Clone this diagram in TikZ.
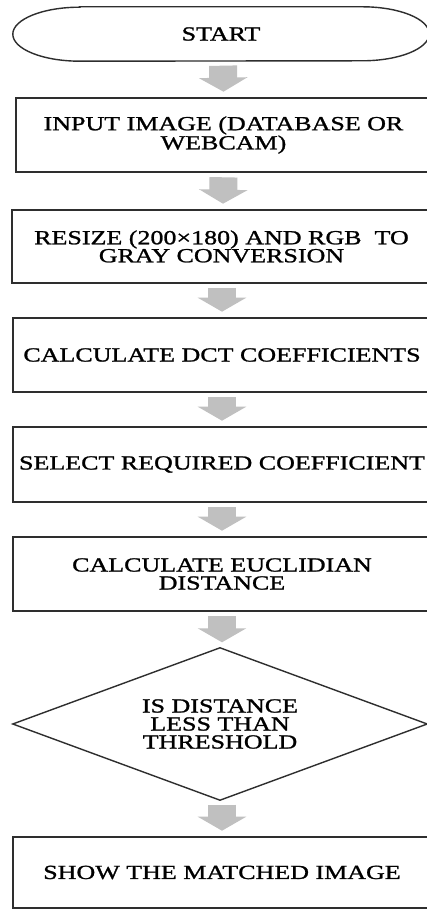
\documentclass[tikz,border=0pt]{standalone}
\usepackage{fontspec}
\setmainfont{Liberation Serif}[FakeStretch=1.3,FakeBold=1.2]
\usetikzlibrary{arrows.meta,calc}
\definecolor{edge}{HTML}{2E2E2E}
\definecolor{arrowgray}{HTML}{C0C0C0}
\tikzset{
  txt/.style={font=\fontsize{20}{18}\selectfont, align=center, text=black},
  procbox/.style={txt, draw=edge, line width=1.6pt, rectangle, inner sep=0pt},
  shapeholder/.style={txt, rectangle, inner sep=0pt},
  outline/.style={draw=edge, line width=1.4pt},
  blockarrow/.style={draw=arrowgray, line width=28pt, -{Triangle[width=48pt,length=14pt]}},
}
\begin{document}
\begin{tikzpicture}[x=1pt,y=1pt]
\useasboundingbox (0,0) rectangle (427,909);
\clip (0,0) rectangle (427,909);
\fill[white] (0,0) rectangle (427,909);

% start terminal
\node[shapeholder, minimum width=416pt, minimum height=54pt] (start) at (221,875) {START};
\draw[outline] ([xshift=67pt]start.north west) -- ([xshift=-67pt]start.north east)
  arc[start angle=90, end angle=-90, x radius=67pt, y radius=27pt]
  -- ([xshift=67pt]start.south west)
  arc[start angle=270, end angle=90, x radius=67pt, y radius=27pt] -- cycle;

\node[procbox, minimum width=415pt, minimum height=74pt] (input) at (223.5,774) {INPUT IMAGE (DATABASE OR\\WEBCAM)};
\node[procbox, minimum width=419pt, minimum height=73pt] (resize) at (221.5,662.5) {RESIZE (200×180) AND RGB\ \ TO\\GRAY CONVERSION};
\node[procbox, minimum width=418pt, minimum height=74pt] (dct) at (222,554) {CALCULATE DCT COEFFICIENTS};
\node[procbox, minimum width=418pt, minimum height=75pt] (select) at (222,444.5) {SELECT REQUIRED COEFFICIENT};
\node[procbox, minimum width=418pt, minimum height=74pt] (eucl) at (222,335) {CALCULATE EUCLIDIAN\\DISTANCE};

% decision diamond
\node[shapeholder, minimum width=414pt, minimum height=152pt] (dec) at (220,185) {IS DISTANCE\\LESS THAN\\THRESHOLD};
\draw[outline, line join=miter] (dec.west) -- (dec.north) -- (dec.east) -- (dec.south) -- cycle;

\node[procbox, minimum width=418pt, minimum height=71pt] (show) at (222,36.5) {SHOW THE MATCHED IMAGE};

% block arrows
\draw[blockarrow] ($(start.south)+(2,-4.5)$) -- ($(input.north)+(0,5.5)$);
\draw[blockarrow] ($(input.south)+(0,-4.5)$) -- ($(resize.north)+(1.5,5.5)$);
\draw[blockarrow] ($(resize.south)+(0.5,-4.5)$) -- ($(dct.north)+(0,5.5)$);
\draw[blockarrow] ($(dct.south)+(0,-4.5)$) -- ($(select.north)+(0,5.5)$);
\draw[blockarrow] ($(select.south)+(0,-4.5)$) -- ($(eucl.north)+(0,5.5)$);
\draw[blockarrow] ($(eucl.south)+(0,-4.5)$) -- ($(dec.north)+(2,5.5)$);
\draw[blockarrow] ($(dec.south)+(2,-4.5)$) -- ($(show.north)+(0,5.5)$);
\end{tikzpicture}
\end{document}
